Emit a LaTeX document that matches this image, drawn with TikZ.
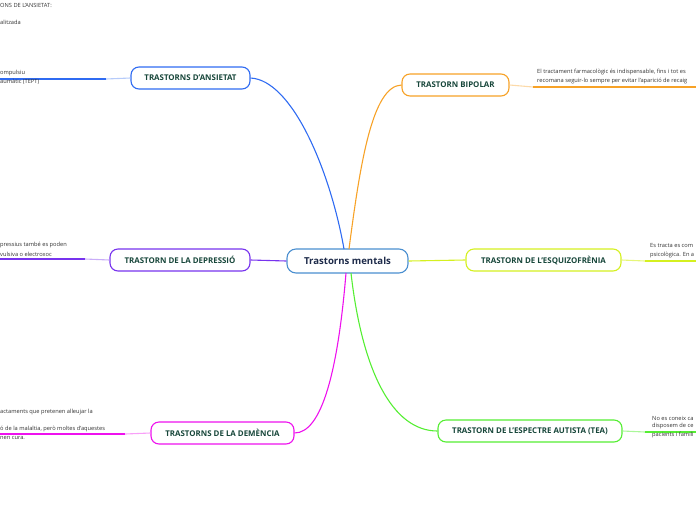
\documentclass[tikz,border=0pt]{standalone}
\usepackage{fontspec}
\setmainfont{Open Sans}
\definecolor{txtg}{HTML}{17463A}
\definecolor{navy}{HTML}{1E2B4A}
\definecolor{cblue}{HTML}{2F6BF2}
\definecolor{corange}{HTML}{F7A227}
\definecolor{cyg}{HTML}{D5F020}
\definecolor{cgreen}{HTML}{55EE33}
\definecolor{cmag}{HTML}{EE11EE}
\definecolor{cpurp}{HTML}{7733EE}
\definecolor{cmain}{HTML}{4A8FD0}
\tikzset{
  topic/.style={draw, line width=1.1pt, rounded corners=8pt, fill=white, minimum height=22pt, inner sep=0pt, font=\fontsize{7.9}{8.5}\selectfont\bfseries, text=txtg},
  conn/.style={line width=1.1pt},
  leaf/.style={line width=1.6pt},
  note/.style={anchor=west, inner sep=0pt, font=\fontsize{5.7}{6.5}\selectfont, text=black!80, align=left},
}
\begin{document}
\begin{tikzpicture}[x=1pt,y=-1pt]
\useasboundingbox (0,0) rectangle (696,520);
\clip (0,0) rectangle (696,520);
% central
\node[draw=cmain, line width=1.1pt, rounded corners=9pt, fill=white, minimum width=121pt, minimum height=24pt, inner sep=0pt, font=\fontsize{9.6}{10}\selectfont\bfseries, text=navy] (c) at (347.5,261) {Trastorns mentals};
% topics
\node[topic, draw=cblue, minimum width=119pt] (ans) at (190.5,78) {TRASTORNS D'ANSIETAT};
\node[topic, draw=corange, minimum width=107pt] (bip) at (455.5,85) {TRASTORN BIPOLAR};
\node[topic, draw=cyg, minimum width=155pt] (esq) at (543.5,260) {TRASTORN DE L'ESQUIZOFRÈNIA};
\node[topic, draw=cgreen, minimum width=184pt] (tea) at (530,431) {TRASTORN DE L'ESPECTRE AUTISTA (TEA)};
\node[topic, draw=cmag, minimum width=143pt] (dem) at (222.5,433) {TRASTORNS DE LA DEMÈNCIA};
\node[topic, draw=cpurp, minimum width=140pt] (dep) at (180,260) {TRASTORN DE LA DEPRESSIÓ};
% coordinates on central node
\coordinate (c1) at (344,249);
\coordinate (c2) at (349,249);
\coordinate (c3) at (346,273);
\coordinate (c4) at (351,273);
% main connectors
\draw[conn, cblue] (c1) .. controls (330,170) and (292,80) .. (ans.east);
\draw[conn, corange] (c2) .. controls (360,165) and (372,86) .. (bip.west);
\draw[conn, cyg] (c.east) -- (esq.west);
\draw[conn, cpurp] (c.west) -- (dep.east);
\draw[conn, cmag] (c3) .. controls (338,370) and (322,433) .. (dem.east);
\draw[conn, cgreen] (c4) .. controls (362,370) and (392,431) .. (tea.west);
% leaf lines
\coordinate (a1) at (106,79); \coordinate (a0) at (0,79);
\draw[conn, cblue!35] (ans.west) -- (a1);
\draw[leaf, cblue] (a1) -- (a0);
\coordinate (b1) at (533,87); \coordinate (b0) at (696,87);
\draw[conn, corange!40] (bip.east) -- (b1);
\draw[leaf, corange] (b1) -- (b0);
\coordinate (e1) at (645,261); \coordinate (e0) at (696,261);
\draw[conn, cyg!60] (esq.east) -- (e1);
\draw[leaf, cyg] (e1) -- (e0);
\coordinate (t1) at (645,432); \coordinate (t0) at (696,432);
\draw[conn, cgreen!50] (tea.east) -- (t1);
\draw[leaf, cgreen] (t1) -- (t0);
\coordinate (m1) at (125,434); \coordinate (m0) at (0,434);
\draw[conn, cmag!40] (dem.west) -- (m1);
\draw[leaf, cmag] (m1) -- (m0);
\coordinate (d1) at (85,259); \coordinate (d0) at (0,259);
\draw[conn, cpurp!40] (dep.west) -- (d1);
\draw[leaf, cpurp] (d1) -- (d0);
% notes
\node[note] (n1) at (0,5) {ONS DE L'ANSIETAT:};
\node[note] (n2) at (0,22) {alitzada};
\node[note] (n3) at (0,73) {ompulsiu};
\node[note] (n4) at (0,82) {aumàtic (TEPT)};
\node[note] (n5) at (537,71.5) {El tractament farmacològic és indispensable, fins i tot es};
\node[note] (n6) at (537,80.5) {recomana seguir-lo sempre per evitar l'aparició de recaig};
\node[note] (n7) at (650,245.5) {Es tracta es com};
\node[note] (n8) at (650,254.5) {psicològica. En a};
\node[note] (n9) at (652,418) {No es coneix ca};
\node[note] (n10) at (652,426.5) {disposem de ce};
\node[note] (n11) at (652,435) {pacients i famili};
\node[note] (n12) at (0,245) {pressius també es poden};
\node[note] (n13) at (0,254) {vulsiva o electroxoc};
\node[note] (n14) at (0,412) {actaments que pretenen alleujar la};
\node[note] (n15) at (0,429) {ó de la malaltia, però moltes d'aquestes};
\node[note] (n16) at (0,438) {nen cura.};
\end{tikzpicture}
\end{document}
